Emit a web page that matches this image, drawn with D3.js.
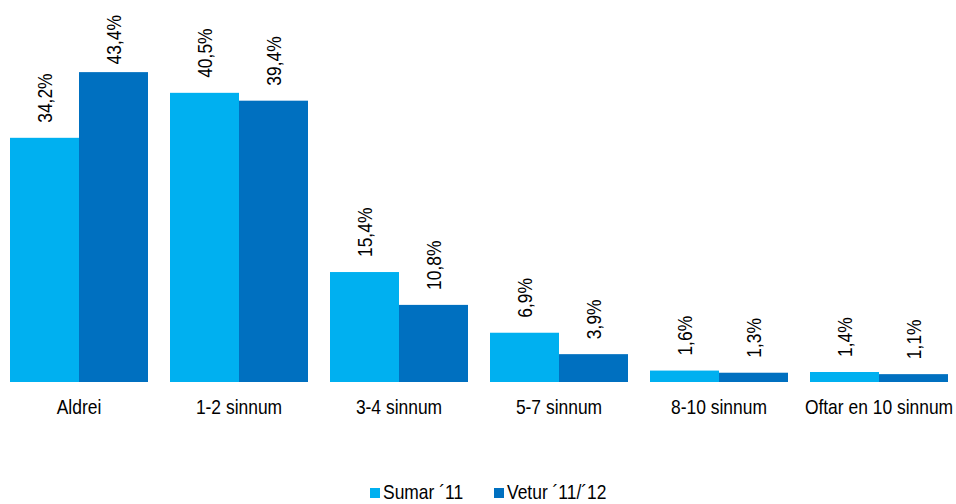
<!DOCTYPE html>
<html>
<head>
<meta charset="utf-8">
<script src="https://cdn.jsdelivr.net/npm/d3@7"></script>
<style>
  body { margin: 0; background: #fff; }
  svg text { font-family: "Liberation Sans Narrow", "Arial Narrow", "Liberation Sans", Arial, sans-serif; fill: #000; }
</style>
</head>
<body>
<div id="chart"></div>
<script>
// data
const categories = ["Aldrei", "1-2 sinnum", "3-4 sinnum", "5-7 sinnum", "8-10 sinnum", "Oftar en 10 sinnum"];
const seriesNames = ["Sumar ´11", "Vetur ´11/´12"];
const sumar = [34.2, 40.5, 15.4, 6.9, 1.6, 1.4];
const vetur = [43.4, 39.4, 10.8, 3.9, 1.3, 1.1];
const colors = ["#00B0F0", "#0070C0"];

const width = 956, height = 504;
const squeeze = 0.83; // narrow font look

const svg = d3.select("#chart").append("svg")
    .attr("width", width)
    .attr("height", height);

// condense a text selection horizontally (along its own direction)
function condense(sel) {
    sel.each(function() {
        let len = this.getComputedTextLength();
        d3.select(this)
            .attr("textLength", len * squeeze)
            .attr("lengthAdjust", "spacingAndGlyphs");
        this.__len = len * squeeze;
    });
}

// scales
const x0 = d3.scaleBand().domain(categories).range([-1, 959]).padding(0);
const x1 = d3.scaleBand().domain(seriesNames).range([11, 149]).padding(0);
const y = d3.scaleLinear().domain([0, 50]).range([382, 25]);

const rows = categories.map((c, i) => ({
    cat: c,
    vals: [{s: seriesNames[0], v: sumar[i]}, {s: seriesNames[1], v: vetur[i]}]
}));

const groups = svg.selectAll(".grp")
    .data(rows)
    .enter().append("g")
    .attr("class", "grp")
    .attr("transform", d => `translate(${x0(d.cat)},0)`);

groups.selectAll("rect")
    .data(d => d.vals)
    .enter().append("rect")
    .attr("x", d => x1(d.s))
    .attr("y", d => y(d.v))
    .attr("width", x1.bandwidth())
    .attr("height", d => y(0) - y(d.v))
    .attr("fill", (d, i) => colors[i]);

// value labels, rotated; pushed down if they would leave the top
const fmt = v => v.toFixed(1).replace(".", ",") + "%";
const vals = groups.selectAll(".val")
    .data(d => d.vals)
    .enter().append("text")
    .attr("class", "val")
    .attr("dominant-baseline", "central")
    .attr("text-anchor", "start")
    .style("font-size", "21px")
    .text(d => fmt(d.v))
    .call(condense);

vals.attr("transform", function(d) {
    let start = y(d.v) - 15;
    if (start - this.__len < 15) start = 15 + this.__len;
    return `translate(${x1(d.s) + x1.bandwidth() / 2},${start}) rotate(-90)`;
});

// category axis labels
svg.append("g")
    .selectAll("text")
    .data(categories)
    .enter().append("text")
    .attr("x", d => x0(d) + x0.bandwidth() / 2)
    .attr("y", 414)
    .attr("text-anchor", "middle")
    .style("font-size", "21px")
    .text(d => d)
    .call(condense);

// legend
const legendX = [370, 494];
const legend = svg.append("g").attr("class", "legend");
seriesNames.forEach((s, i) => {
    legend.append("rect")
        .attr("x", legendX[i])
        .attr("y", 488)
        .attr("width", 10)
        .attr("height", 10)
        .attr("fill", colors[i]);
    legend.append("text")
        .attr("x", legendX[i] + 13)
        .attr("y", 499)
        .style("font-size", "21px")
        .text(s)
        .call(condense);
});
</script>
</body>
</html>
